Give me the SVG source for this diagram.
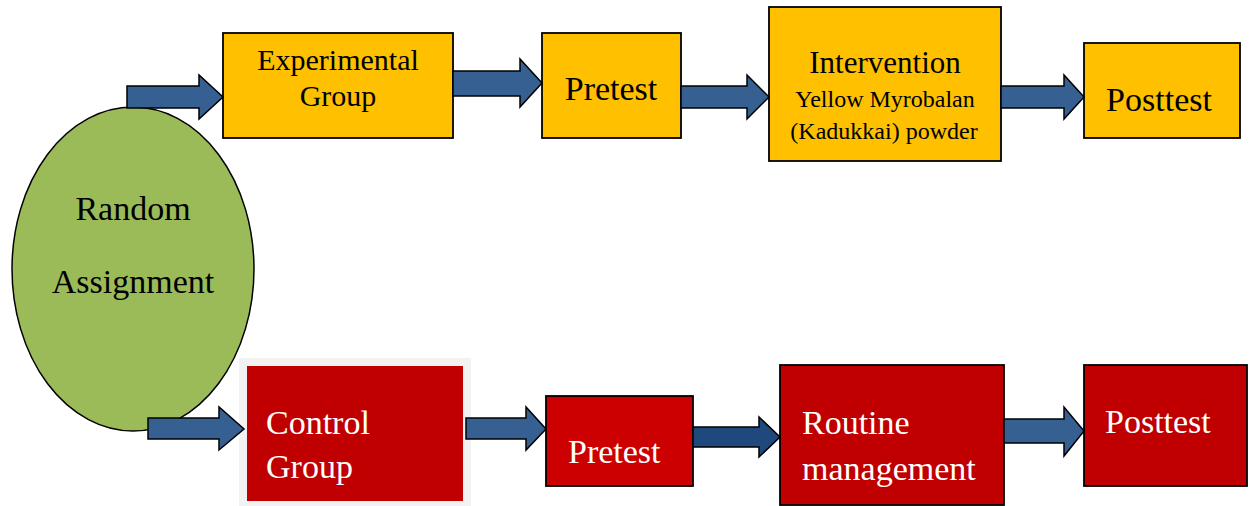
<svg xmlns="http://www.w3.org/2000/svg" width="1254" height="506" viewBox="0 0 1254 506">
<style>
.box{stroke:#000;stroke-width:1.8}
.yel{fill:#FFC000}
.red{fill:#C00000}
.arr{fill:#376092;stroke:#000;stroke-width:1.5;stroke-linejoin:miter}
.t{font-family:"Liberation Serif","Times New Roman",serif;font-size:34px}
.dk{fill:#000}
.wh{fill:#fff}
</style>
<rect width="1254" height="506" fill="#fff"/>
<g id="random">
<ellipse cx="133" cy="269" rx="121" ry="162" fill="#9BBB59" stroke="#000" stroke-width="1.5"/>
<text class="t dk" x="133" y="220" text-anchor="middle">Random</text>
<text class="t dk" x="133" y="293" text-anchor="middle">Assignment</text>
</g>
<g id="exp">
<rect class="box yel" x="223" y="33" width="230" height="105"/>
<text class="t dk" x="338" y="70" text-anchor="middle" style="font-size:30px">Experimental</text>
<text class="t dk" x="338" y="106" text-anchor="middle" style="font-size:30px">Group</text>
</g>
<g id="pretest1">
<rect class="box yel" x="542" y="33" width="139" height="105"/>
<text class="t dk" x="611" y="100" text-anchor="middle">Pretest</text>
</g>
<g id="intervention">
<rect class="box yel" x="769" y="7" width="232" height="154"/>
<text class="t dk" x="885" y="73" text-anchor="middle" style="font-size:31px">Intervention</text>
<text class="t dk" x="885" y="107" text-anchor="middle" style="font-size:24px">Yellow Myrobalan</text>
<text class="t dk" x="884" y="139" text-anchor="middle" style="font-size:24px">(Kadukkai) powder</text>
</g>
<g id="posttest1">
<rect class="box yel" x="1084" y="43" width="156" height="95"/>
<text class="t dk" x="1159" y="111" text-anchor="middle">Posttest</text>
</g>
<g id="control">
<rect x="239" y="358" width="232" height="148" fill="#F2F2F2"/>
<rect class="red" x="247" y="366" width="216" height="135"/>
<text class="t wh" x="266" y="434">Control</text>
<text class="t wh" x="266" y="478">Group</text>
</g>
<g id="pretest2">
<rect class="box" fill="#CC0000" x="546" y="396" width="147" height="90"/>
<text class="t wh" x="568" y="463">Pretest</text>
</g>
<g id="routine">
<rect class="box red" x="780" y="365" width="224" height="140"/>
<text class="t wh" x="802" y="434">Routine</text>
<text class="t wh" x="802" y="480">management</text>
</g>
<g id="posttest2">
<rect class="box red" x="1084" y="365" width="163" height="121"/>
<text class="t wh" x="1105" y="433">Posttest</text>
</g>
<g id="connectors">
<polygon class="arr" points="127,86 199,86 199,75 223,97 199,119 199,108 127,108"/>
<polygon class="arr" points="453,71 520,71 520,59 542,83 520,107 520,96 453,96"/>
<polygon class="arr" points="681,86 747,86 747,75 769,97 747,119 747,108 681,108"/>
<polygon class="arr" points="1001,86 1064,86 1064,75 1084,97 1064,119 1064,108 1001,108"/>
<polygon class="arr" points="148,418 219,418 219,407 244,429 219,450 219,439 148,439"/>
<polygon class="arr" points="466,418 526,418 526,407 546,429 526,450 526,439 466,439"/>
<polygon class="arr" style="fill:#1F497D" points="693,427 759,427 759,417 780,437 759,457 759,447 693,447"/>
<polygon class="arr" points="1004,419 1064,419 1064,407 1084,431 1064,456 1064,443 1004,443"/>
</g>
</svg>
